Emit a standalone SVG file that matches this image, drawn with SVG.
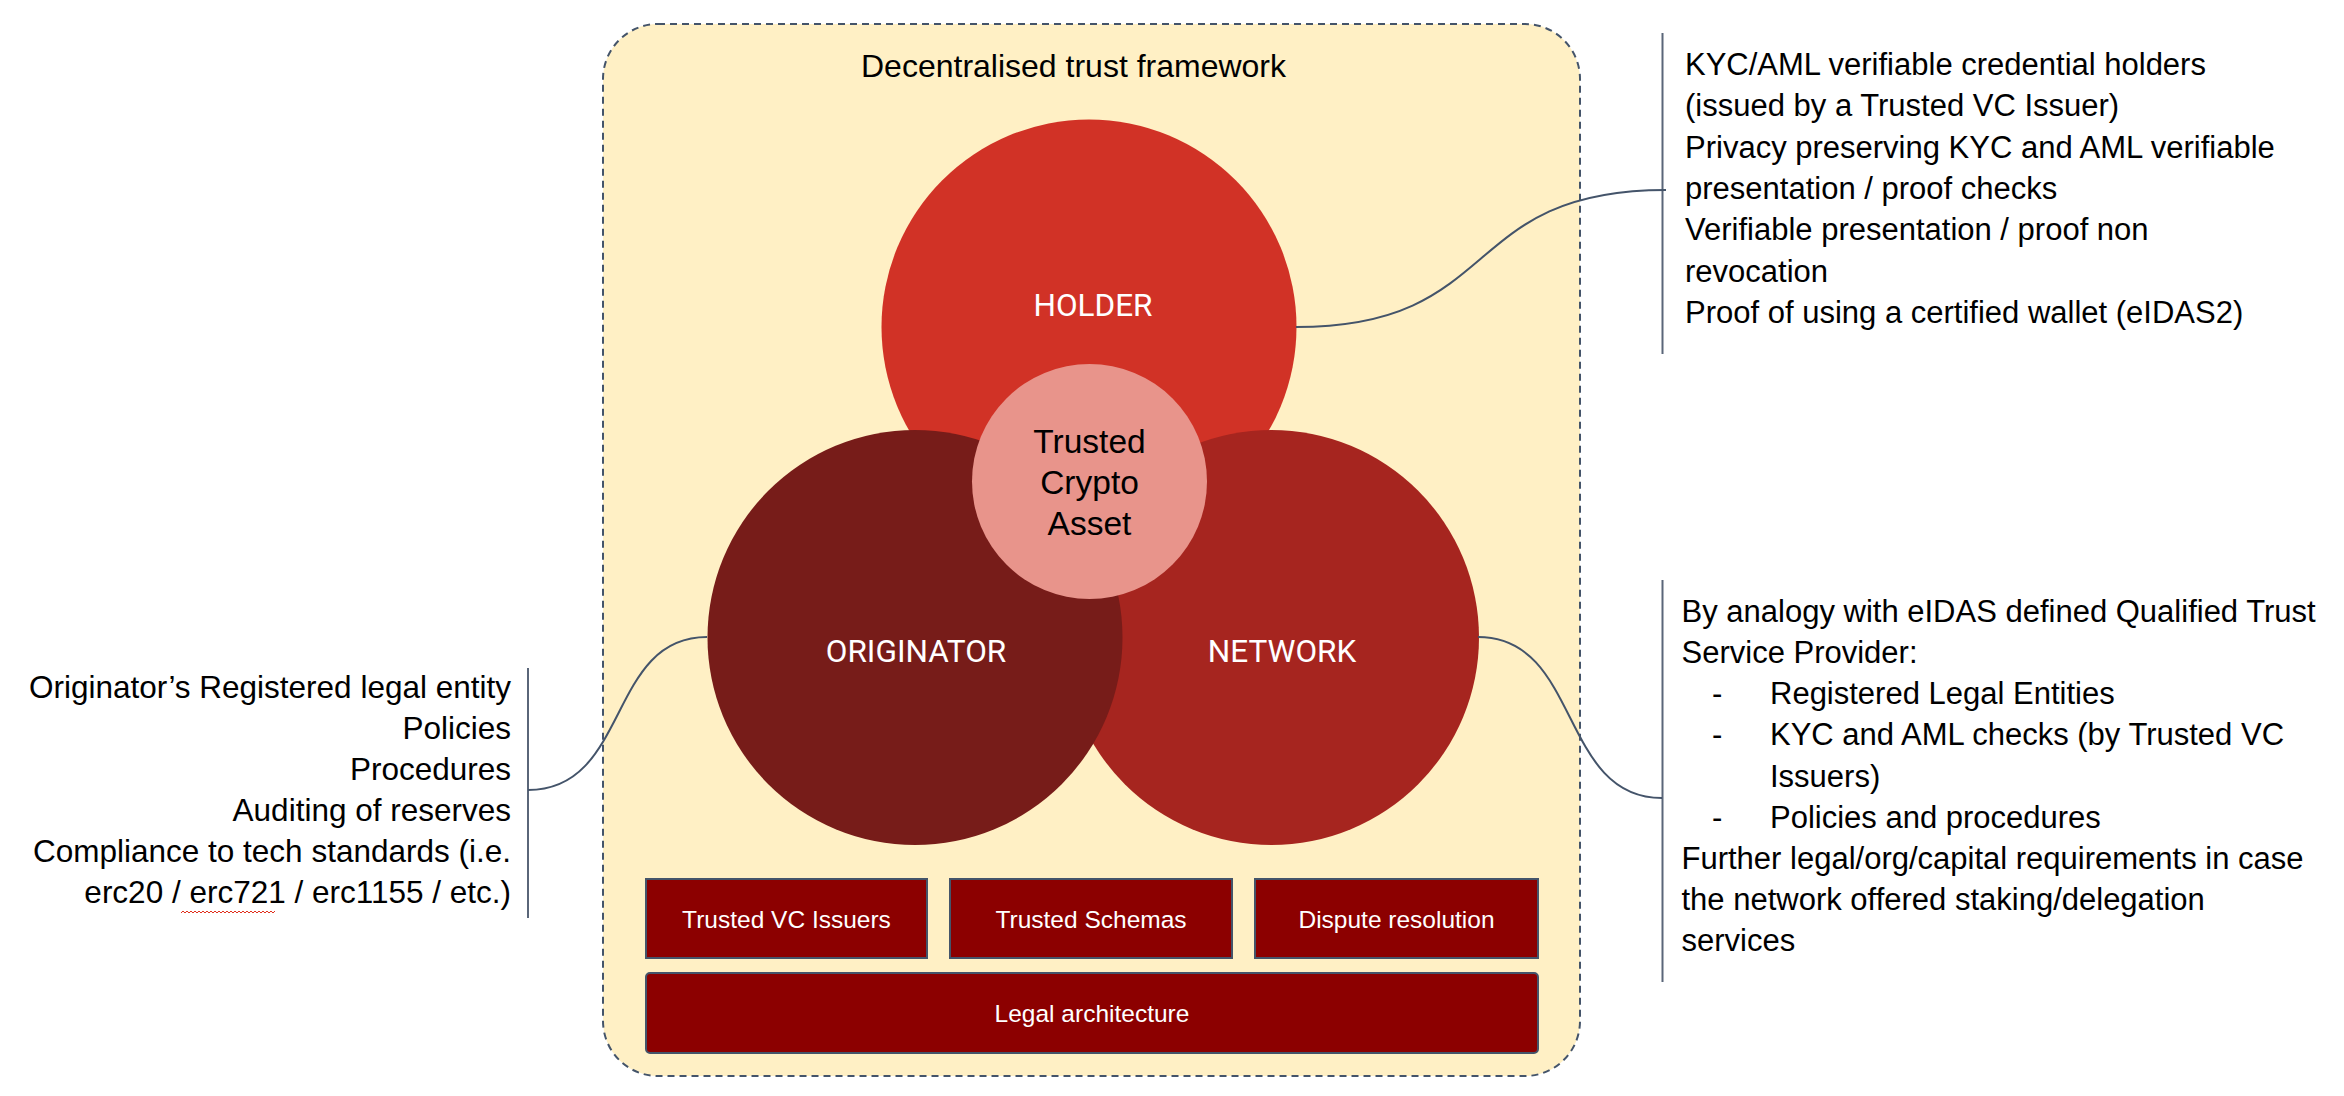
<svg xmlns="http://www.w3.org/2000/svg" width="2344" height="1096" viewBox="0 0 2344 1096">
  <defs>
    <style>
      .txt { font-family: "Liberation Sans", Arial, sans-serif; font-size: 31px; fill: #000; }
      .lbl { font-family: Roboto, "Liberation Sans", sans-serif; font-size: 31.5px; fill: #fff; text-anchor: middle; }
      .core { font-family: "Liberation Sans", Arial, sans-serif; font-size: 33.5px; fill: #000; text-anchor: middle; }
      .box { fill: #8C0000; stroke: #44546A; stroke-width: 2; }
      .boxt { font-family: "Liberation Sans", Arial, sans-serif; font-size: 24.5px; fill: #fff; text-anchor: middle; }
      .conn { fill: none; stroke: #44546A; stroke-width: 2; }
      .brk { fill: none; stroke: #5A6679; stroke-width: 2; }
    </style>
  </defs>
  <rect width="2344" height="1096" fill="#ffffff"/>

  <g id="framework">
    <rect x="603" y="24" width="977" height="1052" rx="55" ry="55" fill="#FFF0C5" stroke="#44546A" stroke-width="2" stroke-dasharray="7 5"/>
    <text class="txt" x="1073.5" y="77" text-anchor="middle" style="font-size:32px">Decentralised trust framework</text>
  </g>

  <g id="holder">
    <circle cx="1089" cy="327" r="207.5" fill="#D13226"/>
    <text class="lbl" x="1093" y="316">HOLDER</text>
  </g>
  <g id="network">
    <circle cx="1271.5" cy="637.5" r="207.5" fill="#A6251F"/>
    <text class="lbl" x="1282" y="662">NETWORK</text>
  </g>
  <g id="originator">
    <circle cx="915" cy="637.5" r="207.5" fill="#771C19"/>
    <text class="lbl" x="916" y="662">ORIGINATOR</text>
  </g>
  <g id="trusted-crypto-asset">
    <circle cx="1089.5" cy="481.5" r="117.5" fill="#E8948B"/>
    <text class="core" x="1089.5" y="453">Trusted</text>
    <text class="core" x="1089.5" y="494">Crypto</text>
    <text class="core" x="1089.5" y="535">Asset</text>
  </g>

  <g id="trusted-vc-issuers">
    <rect class="box" x="646" y="879" width="281" height="79"/>
    <text class="boxt" x="786.5" y="928">Trusted VC Issuers</text>
  </g>
  <g id="trusted-schemas">
    <rect class="box" x="950" y="879" width="282" height="79"/>
    <text class="boxt" x="1091" y="928">Trusted Schemas</text>
  </g>
  <g id="dispute-resolution">
    <rect class="box" x="1255" y="879" width="283" height="79"/>
    <text class="boxt" x="1396.5" y="928">Dispute resolution</text>
  </g>
  <g id="legal-architecture">
    <rect class="box" x="646" y="973" width="892" height="80" rx="4" ry="4"/>
    <text class="boxt" x="1092" y="1021.5">Legal architecture</text>
  </g>

  <g id="holder-notes">
    <line class="brk" x1="1662.5" y1="33" x2="1662.5" y2="354"/>
    <text class="txt" x="1685" y="75">KYC/AML verifiable credential holders</text>
    <text class="txt" x="1685" y="116.3">(issued by a Trusted VC Issuer)</text>
    <text class="txt" x="1685" y="157.6">Privacy preserving KYC and AML verifiable</text>
    <text class="txt" x="1685" y="198.9">presentation / proof checks</text>
    <text class="txt" x="1685" y="240.2">Verifiable presentation / proof non</text>
    <text class="txt" x="1685" y="281.5">revocation</text>
    <text class="txt" x="1685" y="322.8">Proof of using a certified wallet (eIDAS2)</text>
  </g>

  <g id="network-notes">
    <line class="brk" x1="1662.5" y1="580" x2="1662.5" y2="982"/>
    <text class="txt" x="1681.5" y="621.7">By analogy with eIDAS defined Qualified Trust</text>
    <text class="txt" x="1681.5" y="662.9">Service Provider:</text>
    <text class="txt" x="1712" y="704.1">-</text>
    <text class="txt" x="1770" y="704.1">Registered Legal Entities</text>
    <text class="txt" x="1712" y="745.3">-</text>
    <text class="txt" x="1770" y="745.3">KYC and AML checks (by Trusted VC</text>
    <text class="txt" x="1770" y="786.5">Issuers)</text>
    <text class="txt" x="1712" y="827.7">-</text>
    <text class="txt" x="1770" y="827.7">Policies and procedures</text>
    <text class="txt" x="1681.5" y="868.9">Further legal/org/capital requirements in case</text>
    <text class="txt" x="1681.5" y="910.1">the network offered staking/delegation</text>
    <text class="txt" x="1681.5" y="951.3">services</text>
  </g>

  <g id="originator-notes">
    <line class="brk" x1="528" y1="668" x2="528" y2="918"/>
    <text class="txt" x="511" y="698" text-anchor="end" style="font-size:31.5px">Originator’s Registered legal entity</text>
    <text class="txt" x="511" y="739" text-anchor="end" style="font-size:31.5px">Policies</text>
    <text class="txt" x="511" y="780" text-anchor="end" style="font-size:31.5px">Procedures</text>
    <text class="txt" x="511" y="821" text-anchor="end" style="font-size:31.5px">Auditing of reserves</text>
    <text class="txt" x="511" y="862" text-anchor="end" style="font-size:31.5px">Compliance to tech standards (i.e.</text>
    <text class="txt" x="511" y="903" text-anchor="end" style="font-size:31.5px">erc20 / erc721 / erc1155 / etc.)</text>
    <path d="M181 913 l2 -2 l2 2 l2 -2 l2 2 l2 -2 l2 2 l2 -2 l2 2 l2 -2 l2 2 l2 -2 l2 2 l2 -2 l2 2 l2 -2 l2 2 l2 -2 l2 2 l2 -2 l2 2 l2 -2 l2 2 l2 -2 l2 2 l2 -2 l2 2 l2 -2 l2 2 l2 -2 l2 2 l2 -2 l2 2 l2 -2 l2 2 l2 -2 l2 2 l2 -2 l2 2 l2 -2 l2 2 l2 -2 l2 2 l2 -2 l2 2 l2 -2 l2 2 l2 -2" fill="none" stroke="#E0301E" stroke-width="1"/>
  </g>

  <g id="connectors">
    <path class="conn" d="M528 790 C630 790, 607 637, 707 637"/>
    <path class="conn" d="M1296 327 C1505 327, 1457 190, 1666 190"/>
    <path class="conn" d="M1478 637 C1581 637, 1559 798, 1662 798"/>
  </g>
</svg>
